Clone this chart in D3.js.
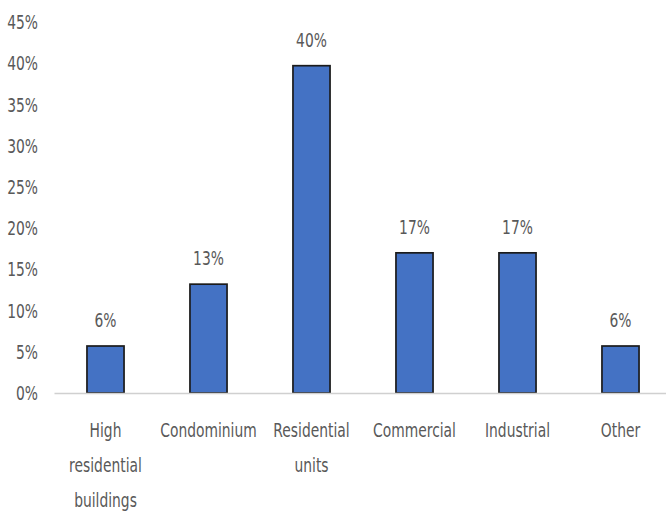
<!DOCTYPE html>
<html>
<head>
<meta charset="utf-8">
<script src="https://cdn.jsdelivr.net/npm/d3@7"></script>
<style>
  html, body { margin: 0; padding: 0; background: #fff; }
  svg text { font-family: "DejaVu Sans", sans-serif; fill: #595959; }
</style>
</head>
<body>
<script>
// Share of each building category
const categories = ["High residential buildings", "Condominium", "Residential units", "Commercial", "Industrial", "Other"];
const categoryLines = [["High", "residential", "buildings"], ["Condominium"], ["Residential", "units"], ["Commercial"], ["Industrial"], ["Other"]];
const shares = [0.057, 0.132, 0.397, 0.170, 0.170, 0.057];
const yTicks = [0, 0.05, 0.10, 0.15, 0.20, 0.25, 0.30, 0.35, 0.40, 0.45];

const width = 666, height = 513;
const fontSize = 19;
const squeeze = "scale(0.73,1)"; // narrow, tall lettering

const svg = d3.select("body").append("svg")
  .attr("width", width).attr("height", height);

const x = d3.scaleBand().domain(categories).range([54, 672]).paddingInner(0.64).paddingOuter(0.32);
const y = d3.scaleLinear().domain([0, 0.45]).range([393, 22]);

const pct = d3.format(".0%");

// y axis labels (no axis line, no ticks)
const yAxis = svg.append("g").attr("transform", "translate(38,0)")
  .call(d3.axisLeft(y).tickValues(yTicks).tickFormat(pct).tickSize(0).tickPadding(0));
yAxis.attr("font-family", null).attr("font-size", null);
yAxis.select(".domain").remove();
yAxis.selectAll("text")
  .attr("font-size", fontSize).attr("fill", "#595959")
  .attr("dy", "0.35em")
  .attr("transform", squeeze);

// bars
svg.append("g").selectAll("rect").data(categories).join("rect")
  .attr("x", d => x(d))
  .attr("width", x.bandwidth())
  .attr("y", (d, i) => y(shares[i]))
  .attr("height", (d, i) => y(0) - y(shares[i]))
  .attr("fill", "#4472C4")
  .attr("stroke", "#1b1b1b")
  .attr("stroke-width", 1.7);

// baseline
const xAxis = svg.append("g").attr("transform", `translate(0,${y(0)})`)
  .call(d3.axisBottom(x).tickSize(0).tickFormat(""));
xAxis.select(".domain").attr("stroke", "#d0d0d0").attr("stroke-width", 1.5);

// category labels, wrapped
const catLabels = svg.append("g").selectAll("text").data(categories).join("text")
  .attr("transform", d => `translate(${x(d) + x.bandwidth() / 2},437) ${squeeze}`)
  .attr("text-anchor", "middle")
  .attr("font-size", fontSize);
catLabels.selectAll("tspan").data((d, i) => categoryLines[i]).join("tspan")
  .attr("x", 0)
  .attr("dy", (d, j) => j === 0 ? 0 : 35)
  .text(d => d);

// value labels
svg.append("g").selectAll("text").data(categories).join("text")
  .attr("transform", (d, i) => `translate(${x(d) + x.bandwidth() / 2},${y(shares[i]) - 19}) ${squeeze}`)
  .attr("text-anchor", "middle")
  .attr("font-size", fontSize)
  .text((d, i) => pct(shares[i]));
</script>
</body>
</html>
